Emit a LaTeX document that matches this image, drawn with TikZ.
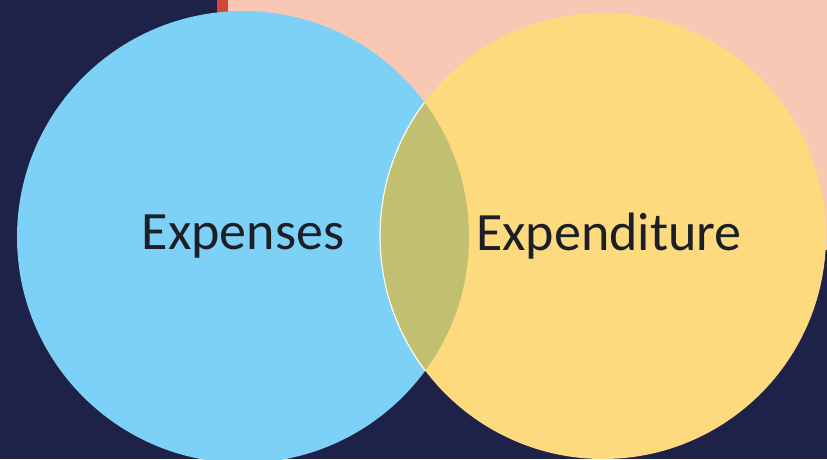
\documentclass[tikz,border=0pt]{standalone}
\usepackage{fontspec}
\setmainfont{Carlito}
\usepackage{xcolor}
\usetikzlibrary{backgrounds}

\definecolor{navybg}{RGB}{31,34,72}
\definecolor{peachbg}{RGB}{248,200,180}
\definecolor{redbar}{RGB}{208,72,58}
\definecolor{setblue}{RGB}{125,208,246}
\definecolor{setyellow}{RGB}{252,218,125}
\definecolor{setlens}{RGB}{192,192,112}
\definecolor{labelink}{RGB}{28,30,40}

\begin{document}
\begin{tikzpicture}[
  x=1pt, y=-1pt,
  setblob/.style={circle, draw=none, inner sep=0pt, minimum size=#1,
    text=labelink, font=\fontsize{54}{60}\selectfont},
  bluecircle/.style={setblob=452pt, fill=setblue},
  yellowcircle/.style={setblob=446pt, fill=setyellow},
]
% ====== BACKDROP ======
\useasboundingbox (0,0) rectangle (827,459);
\fill[navybg] (0,0) rectangle (827,459);
\fill[peachbg] (228,0) rectangle (827,250);
\fill[redbar] (217,0) rectangle (228,60);
%
% ====== THE TWO SETS ======
\node[bluecircle] (expenses) at (243,237) {};
\node[yellowcircle] (expenditure) at (603,236) {};
%
% ====== OVERLAP ======
\begin{scope}
  \clip (expenses.center) circle[radius=226pt];
  \fill[setlens] (expenditure.center) circle[radius=223pt];
  \draw[white!90!setyellow, line width=1.2pt] (expenditure.center) circle[radius=223pt];
\end{scope}
%
% ====== LABELS ======
\node[font=\fontsize{54}{60}\selectfont, text=labelink] (expenses_l) at (expenses.center) {Expenses};
\node[font=\fontsize{54}{60}\selectfont, text=labelink] (expenditure_l) at ([xshift=6pt]expenditure.center) {Expenditure};
\end{tikzpicture}
\end{document}
